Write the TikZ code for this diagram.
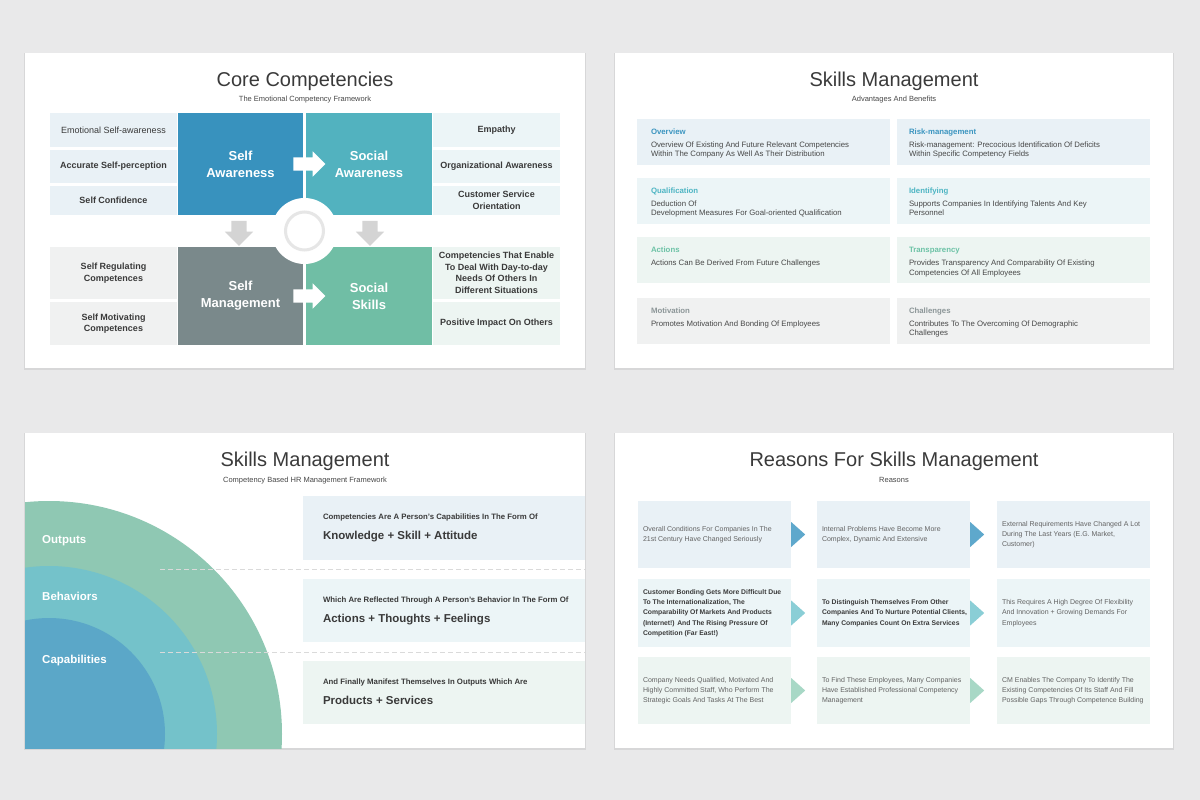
\documentclass[tikz,border=0pt]{standalone}
\usepackage{fontspec}
\setmainfont{Liberation Sans}
\usetikzlibrary{positioning,shapes.arrows}
\definecolor{cPage}{HTML}{E9E9EA}
\definecolor{cSombra}{HTML}{D7D7D8}
\definecolor{cTitulo}{HTML}{3A3A3A}
\definecolor{cTexto}{HTML}{474747}
\definecolor{cAzul}{HTML}{3892BE}
\definecolor{cTurq}{HTML}{52B2BF}
\definecolor{cCinza}{HTML}{7A898B}
\definecolor{cVerde}{HTML}{70BEA5}
\definecolor{cFAzul}{HTML}{E9F1F6}
\definecolor{cFTurq}{HTML}{ECF5F7}
\definecolor{cFVerde}{HTML}{EDF5F2}
\definecolor{cFCinza}{HTML}{F0F1F1}
\definecolor{cHAzul}{HTML}{3B95C0}
\definecolor{cHTurq}{HTML}{4DB5C3}
\definecolor{cHVerde}{HTML}{6CC2A6}
\definecolor{cHCinza}{HTML}{8C9698}
\definecolor{cCirc1}{HTML}{8FC8B3}
\definecolor{cCirc2}{HTML}{74C2CA}
\definecolor{cCirc3}{HTML}{5BA7C8}
\definecolor{cTri1}{HTML}{5EA8CC}
\definecolor{cTri2}{HTML}{8ACED6}
\definecolor{cTri3}{HTML}{A8D8C6}
\definecolor{cSeta}{HTML}{D4D4D4}
\definecolor{cAnel}{HTML}{E6E6E6}
\definecolor{cTraco}{HTML}{DADADA}

\begin{document}
\begin{tikzpicture}[
  x=1pt,y=-1pt,
  ttl/.style={anchor=base,inner sep=0pt,font=\fontsize{20}{24}\selectfont,text=cTitulo},
  sub/.style={anchor=base,inner sep=0pt,font=\fontsize{7.5}{9}\selectfont,text=cTexto},
  cel/.style={minimum width=127pt,inner sep=0pt,align=center,text=cTitulo,
              font=\fontsize{9}{11.5}\selectfont\bfseries},
  quad/.style={minimum width=125pt,inner sep=0pt,align=center,text=white,
               font=\fontsize{13}{17}\selectfont\bfseries},
  setaB/.style={single arrow,fill=white,inner sep=6.5pt,minimum height=32pt,
                single arrow head extend=6pt},
  setaC/.style={single arrow,fill=cSeta,shape border rotate=270,inner sep=7.5pt,
                minimum height=25pt,single arrow head extend=6.5pt},
  caixa/.style={minimum width=253pt,minimum height=46pt,inner sep=0pt},
  hd/.style={anchor=base west,inner sep=0pt,font=\fontsize{7.8}{10}\selectfont\bfseries},
  txt/.style={anchor=north west,inner sep=0pt,align=left,text=cTexto,
              font=\fontsize{7.8}{9.8}\selectfont},
  faixa/.style={minimum width=282pt,minimum height=63pt,inner sep=0pt},
  pq/.style={anchor=base west,inner sep=0pt,text=cTitulo,font=\fontsize{7.8}{9}\selectfont\bfseries},
  gr/.style={anchor=base west,inner sep=0pt,text=cTitulo,font=\fontsize{11.5}{14}\selectfont\bfseries},
  rot/.style={anchor=base west,inner sep=0pt,text=white,font=\fontsize{11.5}{14}\selectfont\bfseries},
  razao/.style={minimum width=153pt,minimum height=67pt,inner sep=0pt},
  rtxt/.style={anchor=west,inner sep=0pt,align=left,text=cTexto!85,font=\fontsize{7}{10.3}\selectfont},
  rtxtN/.style={rtxt,text=cTitulo,font=\fontsize{6.8}{10.3}\selectfont\bfseries},
  tracejado/.style={draw=cTraco,line width=0.8pt,dash pattern=on 5pt off 3pt}
]
\useasboundingbox (0,0) rectangle (1200,800);
\fill[cPage] (0,0) rectangle (1200,800);

% ---- slides
\foreach \xa/\ya/\xb/\yb in {25/53/585/368,615/53/1173/368,25/433/585/748,615/433/1173/748}{
  \fill[cSombra] (\xa-1,\ya) rectangle (\xb+1,\yb+2);
  \fill[white] (\xa,\ya) rectangle (\xb,\yb);
}

% ---- slide 1: core competencies
\node[ttl] (t1) at (305,86) {Core Competencies};
\node[sub] (s1) at (305,102) {The Emotional Competency Framework};

\node[cel,fill=cFAzul,minimum height=34pt] (e1) at (113.5,130) {\mdseries Emotional Self-awareness};
\node[cel,fill=cFAzul,minimum height=33pt] (e2) at (113.5,166.5) {Accurate Self-perception};
\node[cel,fill=cFAzul,minimum height=29pt] (e3) at (113.5,200.5) {Self Confidence};

\node[quad,fill=cAzul,minimum height=102pt] (sa) at (240.5,164) {Self\\Awareness};
\node[quad,fill=cTurq,minimum height=102pt,minimum width=126pt] (sw) at (369,164) {Social\\Awareness};

\node[cel,fill=cFTurq,minimum height=34pt] (d1) at (496.5,130) {Empathy};
\node[cel,fill=cFTurq,minimum height=33pt] (d2) at (496.5,166.5) {Organizational Awareness};
\node[cel,fill=cFTurq,minimum height=29pt] (d3) at (496.5,200.5) {Customer Service\\Orientation};

\node[cel,fill=cFCinza,minimum height=52pt] (l1) at (113.5,273) {Self Regulating\\Competences};
\node[cel,fill=cFCinza,minimum height=43pt] (l2) at (113.5,323.5) {Self Motivating\\Competences};

\node[quad,fill=cCinza,minimum height=98pt] (sm) at (240.5,296) {Self\\Management};
\node[quad,fill=cVerde,minimum height=98pt,minimum width=126pt] (ss) at (369,296) {Social\\Skills};

\node[cel,fill=cFVerde,minimum height=52pt] (r1) at (496.5,273)
  {Competencies That Enable\\To Deal With Day-to-day\\Needs Of Others In\\Different Situations};
\node[cel,fill=cFVerde,minimum height=43pt] (r2) at (496.5,323.5) {Positive Impact On Others};

\node[circle,fill=white,minimum size=66pt,inner sep=0pt] (nucleo) at (304.5,231) {};
\node[circle,draw=cAnel,line width=3pt,minimum size=38pt,inner sep=0pt] (anel) at (nucleo) {};

\node[setaB] (a1) at (306,164) {};
\node[setaB] (a2) at (306,296) {};
\node[setaC] (a3) at (239,229.5) {};
\node[setaC] (a4) at (370,229.5) {};

% ---- slide 2: advantages
\node[ttl] (t2) at (894,86) {Skills Management};
\node[sub] (s2) at (894,102) {Advantages And Benefits};

\node[caixa,fill=cFAzul] (ov) at (763.5,141.5) {};
\node[caixa,fill=cFTurq] (qu) at (763.5,200.5) {};
\node[caixa,fill=cFVerde] (ac) at (763.5,260) {};
\node[caixa,fill=cFCinza] (mo) at (763.5,320.5) {};
\node[caixa,fill=cFAzul] (ri) at (1023.5,141.5) {};
\node[caixa,fill=cFTurq] (id) at (1023.5,200.5) {};
\node[caixa,fill=cFVerde] (tr) at (1023.5,260) {};
\node[caixa,fill=cFCinza] (ch) at (1023.5,320.5) {};

\node[hd,text=cHAzul] (ovh) at ([shift={(14,16)}]ov.north west) {Overview};
\node[txt] (ovt) at ([shift={(14,23)}]ov.north west)
  {Overview Of Existing And Future Relevant Competencies\\Within The Company As Well As Their Distribution};
\node[hd,text=cHTurq] (quh) at ([shift={(14,16)}]qu.north west) {Qualification};
\node[txt] (qut) at ([shift={(14,23)}]qu.north west)
  {Deduction Of\\Development Measures For Goal-oriented Qualification};
\node[hd,text=cHVerde] (ach) at ([shift={(14,16)}]ac.north west) {Actions};
\node[txt] (act) at ([shift={(14,23)}]ac.north west) {Actions Can Be Derived From Future Challenges};
\node[hd,text=cHCinza] (moh) at ([shift={(14,16)}]mo.north west) {Motivation};
\node[txt] (mot) at ([shift={(14,23)}]mo.north west) {Promotes Motivation And Bonding Of Employees};

\node[hd,text=cHAzul] (rih) at ([shift={(12,16)}]ri.north west) {Risk-management};
\node[txt] (rit) at ([shift={(12,23)}]ri.north west)
  {Risk-management: Precocious Identification Of Deficits\\Within Specific Competency Fields};
\node[hd,text=cHTurq] (idh) at ([shift={(12,16)}]id.north west) {Identifying};
\node[txt] (idt) at ([shift={(12,23)}]id.north west)
  {Supports Companies In Identifying Talents And Key\\Personnel};
\node[hd,text=cHVerde] (trh) at ([shift={(12,16)}]tr.north west) {Transparency};
\node[txt] (trt) at ([shift={(12,23)}]tr.north west)
  {Provides Transparency And Comparability Of Existing\\Competencies Of All Employees};
\node[hd,text=cHCinza] (chh) at ([shift={(12,16)}]ch.north west) {Challenges};
\node[txt] (cht) at ([shift={(12,23)}]ch.north west)
  {Contributes To The Overcoming Of Demographic\\Challenges};

% ---- slide 3: framework
\node[ttl] (t3) at (305,466) {Skills Management};
\node[sub] (s3) at (305,482) {Competency Based HR Management Framework};

\begin{scope}
  \clip (25,433) rectangle (585,748);
  \fill[cCirc1] (49,734) circle (233);
  \fill[cCirc2] (49,734) circle (168);
  \fill[cCirc3] (49,734) circle (116);
\end{scope}
\node[rot] (ou) at (42,543) {Outputs};
\node[rot] (be) at (42,600) {Behaviors};
\node[rot] (ca) at (42,663) {Capabilities};

\node[faixa,fill=cFAzul,minimum height=64pt] (k1) at (444,528) {};
\node[faixa,fill=cFTurq] (k2) at (444,610.5) {};
\node[faixa,fill=cFVerde] (k3) at (444,692.5) {};
\node[pq] (k1a) at ([shift={(20,24)}]k1.north west) {Competencies Are A Person's Capabilities In The Form Of};
\node[gr] (k1b) at ([shift={(20,44)}]k1.north west) {Knowledge + Skill + Attitude};
\node[pq] (k2a) at ([shift={(20,24)}]k2.north west) {Which Are Reflected Through A Person's Behavior In The Form Of};
\node[gr] (k2b) at ([shift={(20,44)}]k2.north west) {Actions + Thoughts + Feelings};
\node[pq] (k3a) at ([shift={(20,24)}]k3.north west) {And Finally Manifest Themselves In Outputs Which Are};
\node[gr] (k3b) at ([shift={(20,44)}]k3.north west) {Products + Services};

\coordinate (p1) at (160,569);
\coordinate (p2) at (160,652);
\draw[tracejado] (p1) -- (p1 -| k1.east);
\draw[tracejado] (p2) -- (p2 -| k1.east);

% ---- slide 4: reasons
\node[ttl] (t4) at (894,466) {Reasons For Skills Management};
\node[sub] (s4) at (894,482) {Reasons};

\node[razao,fill=cFAzul] (b11) at (714.5,534.5) {};
\node[razao,fill=cFAzul] (b12) at (893.5,534.5) {};
\node[razao,fill=cFAzul] (b13) at (1073.5,534.5) {};
\node[razao,fill=cFTurq,minimum height=68pt] (b21) at (714.5,613) {};
\node[razao,fill=cFTurq,minimum height=68pt] (b22) at (893.5,613) {};
\node[razao,fill=cFTurq,minimum height=68pt] (b23) at (1073.5,613) {};
\node[razao,fill=cFVerde] (b31) at (714.5,690.5) {};
\node[razao,fill=cFVerde] (b32) at (893.5,690.5) {};
\node[razao,fill=cFVerde] (b33) at (1073.5,690.5) {};

\node[rtxt] (b11t) at ([xshift=5pt]b11.west)
  {Overall Conditions For Companies In The\\21st Century Have Changed Seriously};
\node[rtxt] (b12t) at ([xshift=5pt]b12.west)
  {Internal Problems Have Become More\\Complex, Dynamic And Extensive};
\node[rtxt] (b13t) at ([xshift=5pt]b13.west)
  {External Requirements Have Changed A Lot\\During The Last Years (E.G. Market,\\Customer)};
\node[rtxtN] (b21t) at ([xshift=5pt]b21.west)
  {Customer Bonding Gets More Difficult Due\\To The Internationalization, The\\Comparability Of Markets And Products\\(Internet!) And The Rising Pressure Of\\Competition (Far East!)};
\node[rtxtN] (b22t) at ([xshift=5pt]b22.west)
  {To Distinguish Themselves From Other\\Companies And To Nurture Potential Clients,\\Many Companies Count On Extra Services};
\node[rtxt] (b23t) at ([xshift=5pt]b23.west)
  {This Requires A High Degree Of Flexibility\\And Innovation + Growing Demands For\\Employees};
\node[rtxt] (b31t) at ([xshift=5pt]b31.west)
  {Company Needs Qualified, Motivated And\\Highly Committed Staff, Who Perform The\\Strategic Goals And Tasks At The Best};
\node[rtxt] (b32t) at ([xshift=5pt]b32.west)
  {To Find These Employees, Many Companies\\Have Established Professional Competency\\Management};
\node[rtxt] (b33t) at ([xshift=5pt]b33.west)
  {CM Enables The Company To Identify The\\Existing Competencies Of Its Staff And Fill\\Possible Gaps Through Competence Building};

\fill[cTri1] (b11.east) ++(0,-12.5) -- ++(14,12.5) -- ++(-14,12.5) -- cycle;
\fill[cTri1] (b12.east) ++(0,-12.5) -- ++(14,12.5) -- ++(-14,12.5) -- cycle;
\fill[cTri2] (b21.east) ++(0,-12.5) -- ++(14,12.5) -- ++(-14,12.5) -- cycle;
\fill[cTri2] (b22.east) ++(0,-12.5) -- ++(14,12.5) -- ++(-14,12.5) -- cycle;
\fill[cTri3] (b31.east) ++(0,-12.5) -- ++(14,12.5) -- ++(-14,12.5) -- cycle;
\fill[cTri3] (b32.east) ++(0,-12.5) -- ++(14,12.5) -- ++(-14,12.5) -- cycle;
\end{tikzpicture}
\end{document}
